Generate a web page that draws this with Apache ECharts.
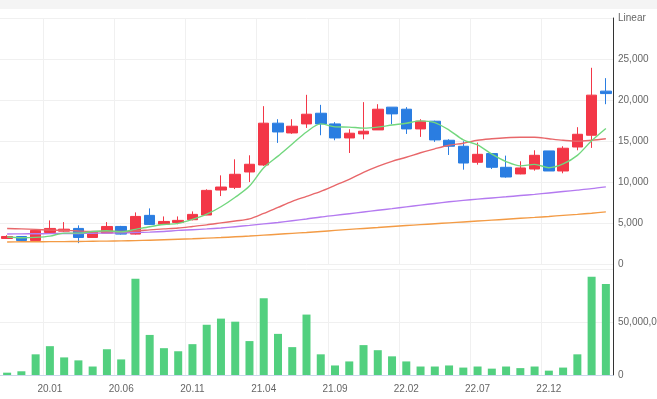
<!DOCTYPE html>
<html>
<head>
<meta charset="utf-8">
<script src="https://cdn.jsdelivr.net/npm/echarts@6/dist/echarts.min.js"></script>
<style>
  html, body { margin: 0; padding: 0; background: #fff; }
  #chart { width: 657px; height: 399px; }
</style>
</head>
<body>
<div id="chart"></div>
<script>
// monthly categories
var months = ['19.10','19.11','19.12','20.01','20.02','20.03','20.04','20.05','20.06','20.07','20.08','20.09','20.10','20.11','20.12',
  '21.01','21.02','21.03','21.04','21.05','21.06','21.07','21.08','21.09','21.10','21.11','21.12',
  '22.01','22.02','22.03','22.04','22.05','22.06','22.07','22.08','22.09','22.10','22.11','22.12',
  '23.01','23.02','23.03','23.04'];

var opens  = [3170,3410,2930,3900,4060,4390,3290,3820,4630,3700,5980,4900,5120,5450,6020,9060,9390,11260,12110,17200,16010,17110,18410,17110,15400,15890,16380,19150,18900,16500,17440,15120,14390,12440,13500,11830,11020,11620,13820,11380,14300,15730,21100];
var closes = [3410,2930,4150,4390,4300,3290,3940,4630,3700,5850,4880,5240,5370,6100,9020,9430,10980,12200,17200,16130,16830,18290,17110,15400,15980,16220,18900,18330,16500,17440,15160,14390,12350,13410,11830,10650,11750,13290,11380,14150,15850,20610,20800];
var lows   = [3170,2900,2930,3800,4000,2600,3290,3820,3650,3650,4800,4850,4900,5370,6000,8330,9180,10040,12000,14800,15900,16620,15730,15120,13570,15240,16380,17070,15890,15530,14920,13330,11540,12150,11630,10570,10980,11420,11380,11100,13900,14190,19510];
var highs  = [3560,3450,4150,5370,5160,4760,3940,5160,4700,6340,6830,5850,5850,6460,9150,10850,12800,13290,19270,17680,17680,20650,19430,17320,16460,19760,19510,19150,19150,17680,17500,15240,15000,14840,13540,13250,12560,13900,13820,14390,16710,23940,22680];

var ma5   = [3350,3250,3300,3450,3820,3820,4010,4110,3970,4280,4600,4860,5010,5490,6120,7030,8180,9550,11770,13190,14670,16130,17110,16750,16720,16600,16720,16970,17190,17480,17270,16360,15170,14550,13430,12530,12000,12190,11780,12240,13280,15060,16560];
var ma20  = [4390,4330,4270,4180,4150,4085,4020,4020,4020,4085,4210,4330,4450,4630,4820,5060,5300,5550,6220,6950,7680,8290,8900,9630,10370,11220,11950,12560,13050,13600,14080,14510,14760,15120,15300,15430,15490,15490,15300,15120,15000,15120,15300];
var ma60  = [3720,3730,3740,3760,3770,3780,3800,3830,3850,3890,3940,4020,4150,4230,4330,4450,4600,4760,4940,5120,5330,5540,5780,5980,6180,6390,6600,6800,7010,7220,7430,7630,7800,7950,8100,8240,8390,8540,8710,8880,9050,9230,9450];
var ma120 = [2740,2760,2770,2780,2790,2800,2830,2850,2880,2910,2960,3010,3070,3130,3210,3280,3370,3460,3570,3680,3790,3900,4020,4150,4270,4390,4510,4630,4740,4850,4960,5070,5180,5290,5400,5510,5620,5730,5850,5980,6100,6240,6400];

var volumes = [2200000,3500000,19500000,27200000,16600000,13800000,8000000,24300000,14700000,90700000,37800000,25300000,22400000,29100000,47400000,53200000,50300000,32000000,72400000,38800000,26300000,57000000,19500000,9000000,12800000,28200000,23400000,17600000,12800000,8000000,8000000,9000000,7000000,8000000,6000000,8000000,6500000,8000000,4100000,7000000,19500000,92600000,85900000];

var priceAxisTop = 'Linear';

var candles = opens.map(function (o, i) {
  return [o, closes[i], lows[i], highs[i]];
});

var showIdx = function (i) { return (i - 3) % 5 === 0; };
var labelFont = { color: '#666', fontSize: 10, fontFamily: 'Arial, sans-serif' };
var gridLine = { show: true, lineStyle: { color: '#f0f0f0', width: 1 } };

var myChart = echarts.init(document.getElementById('chart'));
myChart.setOption({
  animation: false,
  backgroundColor: '#fff',
  graphic: [
    { type: 'rect', shape: { x: 0, y: 0, width: 657, height: 9 }, style: { fill: '#f4f4f4' }, silent: true }
  ],
  grid: [
    { left: 0, right: 44, top: 18, height: 246.5, outerBoundsMode: 'none' },
    { left: 0, right: 44, top: 269, height: 106, outerBoundsMode: 'none' },
    { left: 0, right: 44, top: 18, bottom: 24, outerBoundsMode: 'none' }
  ],
  xAxis: [
    {
      type: 'category', gridIndex: 0, data: months,
      axisLine: { show: false }, axisTick: { show: false }, axisLabel: { show: false },
      splitLine: Object.assign({ interval: showIdx }, gridLine)
    },
    {
      type: 'category', gridIndex: 1, data: months,
      axisLine: { lineStyle: { color: '#ccd6eb' } },
      axisTick: { interval: showIdx, alignWithLabel: true, length: 5, lineStyle: { color: '#ccd6eb' } },
      axisLabel: Object.assign({ interval: showIdx, margin: 9 }, labelFont),
      splitLine: Object.assign({ interval: showIdx }, gridLine)
    },
    { type: 'value', gridIndex: 2, show: false, min: 0, max: 1 }
  ],
  yAxis: [
    {
      type: 'value', gridIndex: 0, position: 'right', min: 0, max: 30000, interval: 5000,
      axisLine: { show: false }, axisTick: { show: false },
      axisLabel: Object.assign({
        margin: 5,
        formatter: function (v) { return v === 30000 ? priceAxisTop : echarts.format.addCommas(v); }
      }, labelFont),
      splitLine: gridLine
    },
    {
      type: 'value', gridIndex: 1, position: 'right', min: 0, max: 100000000, interval: 50000000,
      axisLine: { show: false }, axisTick: { show: false },
      axisLabel: Object.assign({
        margin: 5, showMaxLabel: false,
        formatter: function (v) { return echarts.format.addCommas(v); }
      }, labelFont),
      splitLine: gridLine
    },
    {
      type: 'value', gridIndex: 2, position: 'right', min: 0, max: 1,
      axisLine: { show: true, onZero: false, lineStyle: { color: '#333', width: 1 } },
      axisTick: { show: false }, axisLabel: { show: false }, splitLine: { show: false }
    }
  ],
  series: [
    {
      type: 'candlestick', xAxisIndex: 0, yAxisIndex: 0, data: candles, barWidth: 11,
      itemStyle: { color: '#f33747', color0: '#2a7de1', borderColor: '#f33747', borderColor0: '#2a7de1', borderWidth: 1 },
      z: 2
    },
    { type: 'line', name: 'MA120', xAxisIndex: 0, yAxisIndex: 0, data: ma120, smooth: 0.3, symbol: 'none', lineStyle: { color: '#f39b45', width: 1.4 }, z: 3 },
    { type: 'line', name: 'MA60', xAxisIndex: 0, yAxisIndex: 0, data: ma60, smooth: 0.3, symbol: 'none', lineStyle: { color: '#b47af0', width: 1.4 }, z: 3 },
    { type: 'line', name: 'MA20', xAxisIndex: 0, yAxisIndex: 0, data: ma20, smooth: 0.3, symbol: 'none', lineStyle: { color: '#e8676a', width: 1.4 }, z: 3 },
    { type: 'line', name: 'MA5', xAxisIndex: 0, yAxisIndex: 0, data: ma5, smooth: 0.3, symbol: 'none', lineStyle: { color: '#72d77e', width: 1.4 }, z: 3 },
    {
      type: 'bar', xAxisIndex: 1, yAxisIndex: 1, data: volumes, barWidth: 8,
      itemStyle: { color: '#52d07f' }
    }
  ]
});
</script>
</body>
</html>
